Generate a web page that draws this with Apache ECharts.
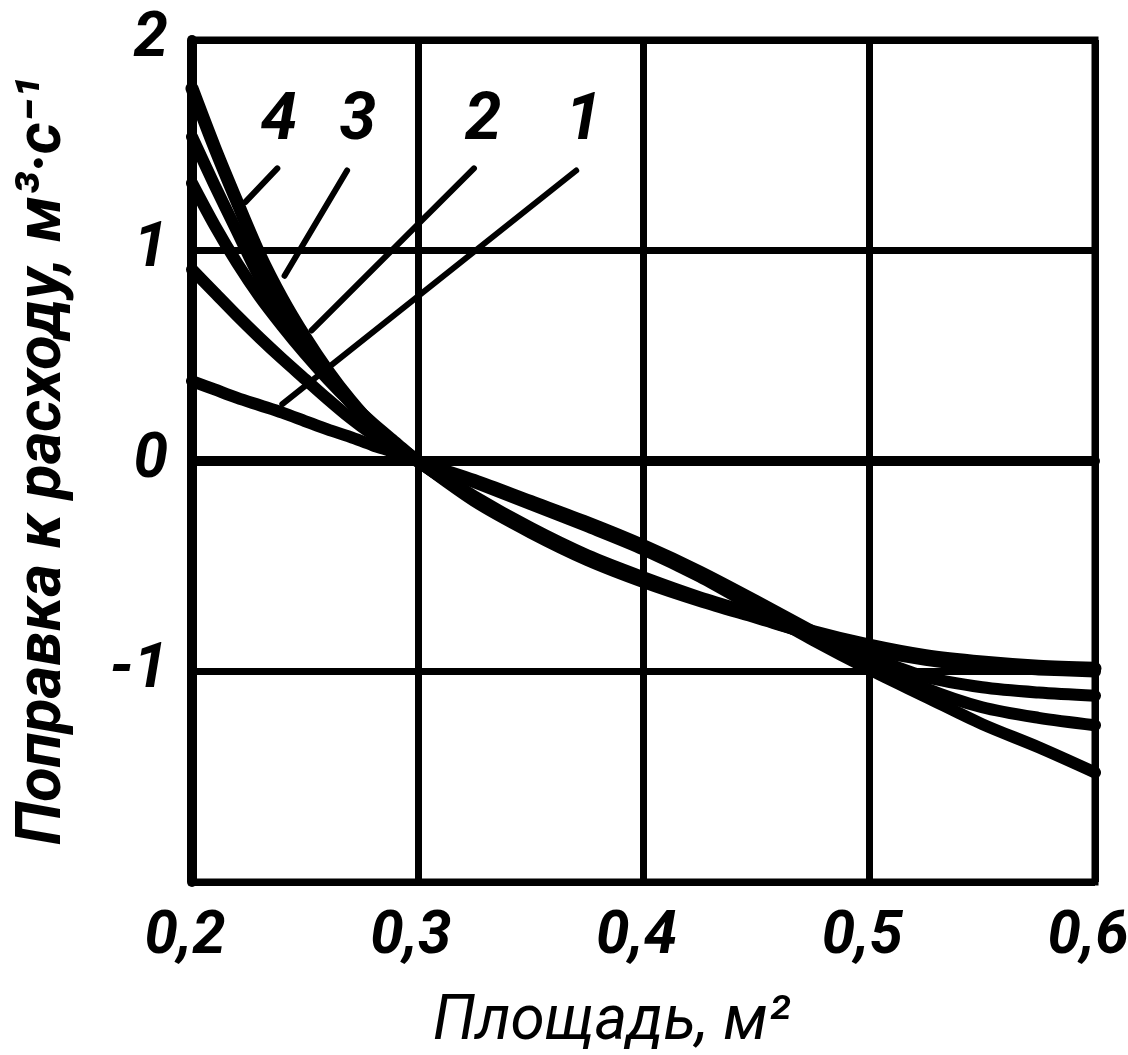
<!DOCTYPE html>
<html>
<head>
<meta charset="utf-8">
<script src="https://cdn.jsdelivr.net/npm/echarts@6/dist/echarts.min.js"></script>
<style>
html,body{margin:0;padding:0;background:#fff;}
#chart{width:1128px;height:1055px;}
</style>
</head>
<body>
<div id="chart"></div>
<script>
// ---- data ----
const X = [0.2,0.21,0.22,0.23,0.24,0.25,0.26,0.27,0.28,0.29,0.3,
           0.325,0.35,0.375,0.4,0.425,0.45,0.475,0.5,0.525,0.55,0.575,0.6];
const curve1  = [0.38,0.34,0.30,0.265,0.23,0.19,0.15,0.115,0.075,0.04,0,
                 -0.10,-0.205,-0.31,-0.42,-0.55,-0.70,-0.85,-0.99,-1.12,-1.25,-1.36,-1.48];
const curve2  = [0.91,0.80,0.69,0.585,0.485,0.39,0.295,0.205,0.125,0.055,0,
                 -0.09,-0.19,-0.29,-0.40,-0.525,-0.665,-0.81,-0.955,-1.08,-1.17,-1.22,-1.255];
const curve3  = [1.32,1.12,0.94,0.78,0.64,0.51,0.39,0.28,0.18,0.09,0,
                 -0.18,-0.33,-0.46,-0.565,-0.655,-0.74,-0.83,-0.93,-1.025,-1.075,-1.10,-1.115];
const curve4b = [1.54,1.31,1.09,0.87,0.69,0.54,0.40,0.28,0.17,0.08,0,
                 -0.19,-0.34,-0.47,-0.575,-0.665,-0.745,-0.825,-0.895,-0.945,-0.975,-0.99,-1.0];
const curve4  = [1.77,1.49,1.23,0.98,0.77,0.59,0.43,0.29,0.17,0.08,0,
                 -0.17,-0.32,-0.45,-0.555,-0.65,-0.73,-0.81,-0.875,-0.925,-0.955,-0.975,-0.985];
const curveLabels = ['1','2','3','4'];
const labelX = [0.3735,0.329,0.2735,0.2385];
const labelY = [1.61,1.61,1.61,1.61];
const leaderFromX = [0.3702,0.3249,0.2687,0.2378];
const leaderFromY = [1.38,1.39,1.38,1.39];
const leaderToX   = [0.240,0.253,0.241,0.2236];
const leaderToY   = [0.27,0.62,0.88,1.23];
const xTicks = [0.2,0.3,0.4,0.5,0.6];
const yTicks = [-2,-1,0,1,2];

const FONT = "Roboto, 'DejaVu Sans', sans-serif";
const chart = echarts.init(document.getElementById('chart'));

function pairs(ys){ return X.map((x,i)=>[x, ys[i]]); }
function curveSeries(name, ys, w){
  return {type:'line', name:name, data:pairs(ys), smooth:0.3, symbol:'none',
          lineStyle:{color:'#000', width:w, cap:'round', join:'round'}, z:5, silent:true};
}
const series = [
  curveSeries('1', curve1, 12),
  curveSeries('2', curve2, 12),
  curveSeries('3', curve3, 12),
  curveSeries('4a', curve4b, 12),
  curveSeries('4', curve4, 13)
];
curveLabels.forEach((l,i)=>{
  series.push({type:'line', data:[[leaderFromX[i],leaderFromY[i]],[leaderToX[i],leaderToY[i]]],
    symbol:'none', lineStyle:{color:'#000', width:6, cap:'round'}, z:4, silent:true});
});
series.push({type:'scatter', data:curveLabels.map((l,i)=>[labelX[i],labelY[i],l]),
  symbolSize:1, itemStyle:{color:'rgba(0,0,0,0)', opacity:1}, z:6, silent:true,
  label:{show:true, position:'inside', formatter:p=>p.data[2], color:'#000', opacity:1,
         fontSize:66, fontWeight:'bold', fontStyle:'italic', fontFamily:FONT}});

chart.setOption({
  animation:false,
  backgroundColor:'#fff',
  grid:{left:192, right:33, top:40, bottom:173, show:true, borderColor:'#000', borderWidth:7,
        containLabel:false, outerBoundsMode:'none'},
  xAxis:{type:'value', min:xTicks[0], max:xTicks[xTicks.length-1], interval:0.1,
    axisLine:{show:true, lineStyle:{color:'#000', width:10}},
    axisTick:{show:false},
    splitLine:{show:true, lineStyle:{color:'#000', width:7}},
    axisLabel:{margin:26, color:'#000', fontSize:60, fontWeight:'bold', fontStyle:'italic', fontFamily:FONT,
      padding:[0,14,0,0],
      formatter:v=>Number(v).toFixed(1).replace('.',',')},
    name:'Площадь, м²', nameLocation:'middle', nameGap:110,
    nameTextStyle:{color:'#000', fontSize:62, fontStyle:'italic', fontFamily:FONT, padding:[0,64,0,0]}
  },
  yAxis:{type:'value', min:yTicks[0], max:yTicks[yTicks.length-1], interval:1,
    axisLine:{show:true, lineStyle:{color:'#000', width:10}},
    axisTick:{show:false},
    splitLine:{show:true, lineStyle:{color:'#000', width:7}},
    axisLabel:{margin:24, color:'#000', fontSize:62, fontWeight:'bold', fontStyle:'italic', fontFamily:FONT,
      formatter:v=> v===yTicks[0] ? '' : String(v)},
    name:'Поправка к расходу, м³·с⁻¹', nameLocation:'middle', nameGap:116, nameRotate:90,
    nameTextStyle:{color:'#000', fontSize:63, fontWeight:'bold', fontStyle:'italic', fontFamily:FONT}
  },
  series:series
});
</script>
</body>
</html>
